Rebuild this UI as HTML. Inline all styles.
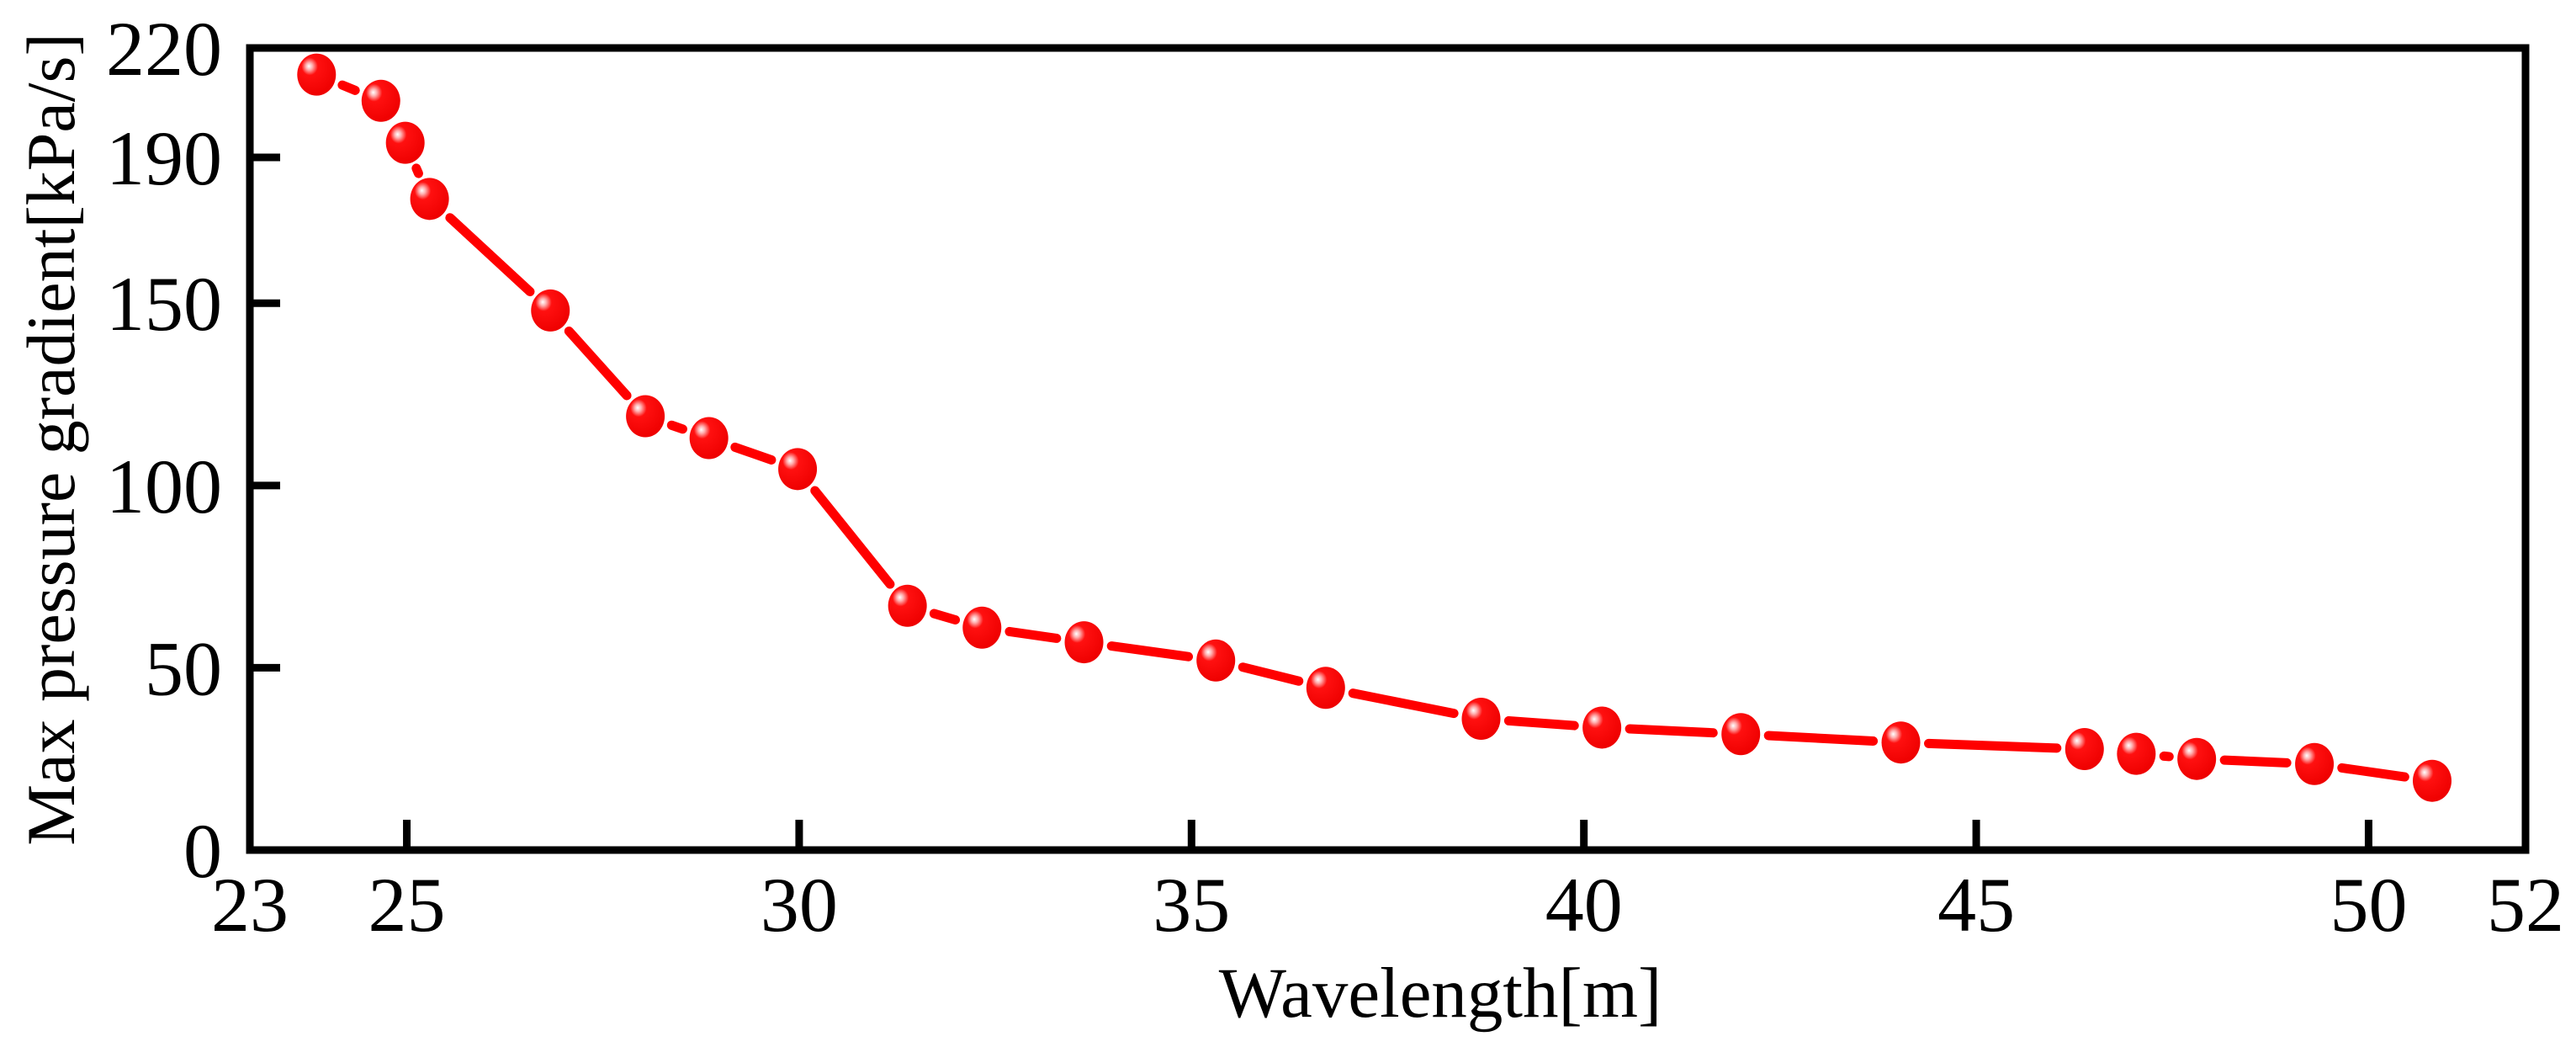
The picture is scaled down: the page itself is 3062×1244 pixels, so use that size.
<!DOCTYPE html>
<html><head><meta charset="utf-8"><style>
html,body{margin:0;padding:0;background:#fff}
svg{display:block}
text{font-family:"Liberation Serif",serif;fill:#000}
</style></head><body>
<svg id="chart" width="3062" height="1244" viewBox="0 0 3062 1244" xmlns="http://www.w3.org/2000/svg">
<defs>
<radialGradient id="ball" cx="0.38" cy="0.32" r="0.7" fx="0.3" fy="0.3">
<stop offset="0" stop-color="#ffffff"/>
<stop offset="0.12" stop-color="#ffb0b0"/>
<stop offset="0.3" stop-color="#ff1010"/>
<stop offset="1" stop-color="#ee0000"/>
</radialGradient>
</defs>
<g id="plot"></g>
<text x="1712" y="1208" font-size="85" text-anchor="middle">Wavelength[m]</text>
<text transform="translate(88,522) rotate(-90)" font-size="82" text-anchor="middle">Max pressure gradient[kPa/s]</text>
</svg>
<script>
const xValues=[23.85,24.67,24.98,25.29,26.83,28.04,28.85,29.98,31.38,32.33,33.63,35.31,36.71,38.69,40.23,42.0,44.04,46.38,47.04,47.81,49.31,50.81];
const yValues=[212.7,205.5,194,178.6,148,119,113,104.5,67,61,57,52,44.5,36,33.6,31.8,29.5,27.7,26.4,25,23.6,19];
const xTicks=[25,30,35,40,45,50];
const xTickLabels=["23","25","30","35","40","45","50","52"];
const xLabelVals=[23,25,30,35,40,45,50,52];
const yTicks=[50,100,150,190];
const yLabelVals=[0,50,100,150,190,220];

const L=297,R=3002,T=57,B=1010,X0=23,X1=52,Y0=0,Y1=220;
const sx=v=>L+(v-X0)*(R-L)/(X1-X0);
const sy=v=>B-(v-Y0)*(B-T)/(Y1-Y0);
const NS="http://www.w3.org/2000/svg";
const g=document.getElementById('plot');
function mk(tag,attrs){const e=document.createElementNS(NS,tag);for(const k in attrs)e.setAttribute(k,attrs[k]);g.appendChild(e);return e;}

const frame=mk('rect',{x:L,y:T,width:R-L,height:B-T,fill:'none',stroke:'#000','stroke-width':9});



xTicks.forEach(v=>{
  const t=mk('line',{x1:sx(v),x2:sx(v),y1:B,y2:B-36,stroke:'#000','stroke-width':9});
  
  
});
xLabelVals.forEach((v,i)=>{
  const t=mk('text',{x:sx(v),y:1106,'font-size':92,'text-anchor':'middle'});
  t.textContent=xTickLabels[i];
  
  
});
yTicks.forEach(v=>{
  const t=mk('line',{x1:L,x2:L+36,y1:sy(v),y2:sy(v),stroke:'#000','stroke-width':9});
  
  
});
yLabelVals.forEach(v=>{
  const t=mk('text',{x:264,y:sy(v)+32,'font-size':92,'text-anchor':'end'});
  t.textContent=String(v);
  
  
});

const gap=33;
for(let i=0;i<xValues.length-1;i++){
  const x1=sx(xValues[i]),y1=sy(yValues[i]),x2=sx(xValues[i+1]),y2=sy(yValues[i+1]);
  const d=Math.hypot(x2-x1,y2-y1);
  if(d<=2*gap+4)continue;
  const ux=(x2-x1)/d,uy=(y2-y1)/d;
  const s=mk('line',{x1:x1+ux*gap,y1:y1+uy*gap,x2:x2-ux*gap,y2:y2-uy*gap,stroke:'#ff0000','stroke-width':11,'stroke-linecap':'round'});
  
  
}
xValues.forEach((v,i)=>{
  const c=mk('ellipse',{cx:sx(v),cy:sy(yValues[i]),rx:23,ry:25,fill:'url(#ball)'});
  
  
});
</script>
</body></html>
